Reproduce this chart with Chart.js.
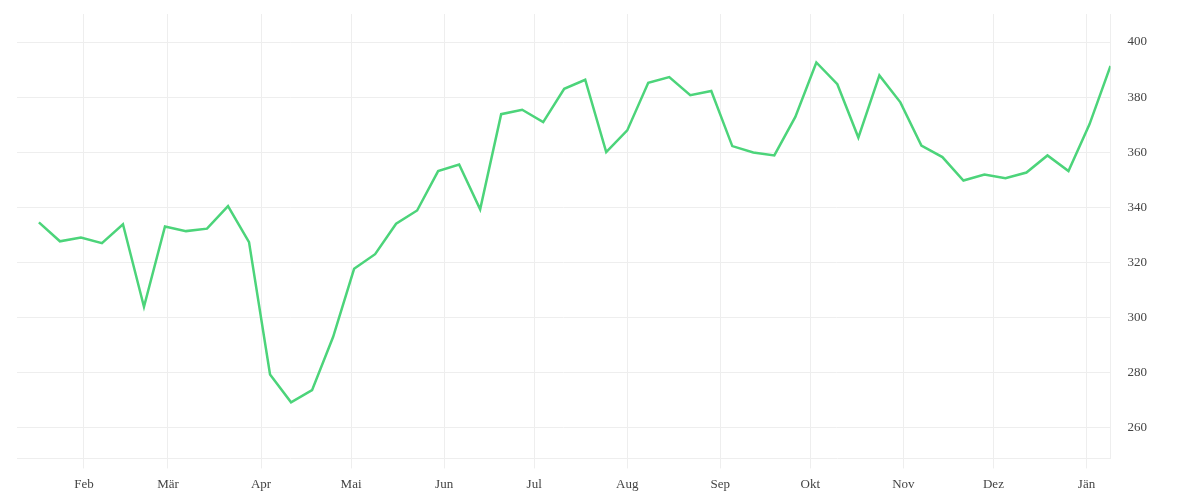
<!DOCTYPE html>
<html>
<head>
<meta charset="utf-8">
<script src="https://cdn.jsdelivr.net/npm/chart.js@4"></script>
<style>
    html, body { margin: 0; padding: 0; background: #fff; }
    #wrap { width: 1200px; height: 500px; }
</style>
</head>
<body>
<div id="wrap"><canvas id="chart"></canvas></div>
<script>
// Days since 1 Jan (weekly samples, last one lands in January of the next year)
const weekDays = [16, 23, 30, 37, 44, 51, 58, 65, 72, 79, 86, 93, 100, 107, 114, 121, 128, 135,
    142, 149, 156, 163, 170, 177, 184, 191, 198, 205, 212, 219, 226, 233, 240, 247, 254, 261,
    268, 275, 282, 289, 296, 303, 310, 317, 324, 331, 338, 345, 352, 359, 366, 373];

const values = [334.5, 327.6, 329.0, 326.9, 333.8, 303.8, 333.0, 331.3, 332.2, 340.4, 327.3, 279.2,
    269.1, 273.5, 292.8, 317.6, 322.9, 334.0, 338.8, 353.1, 355.5, 339.2, 373.8, 375.4, 370.9,
    383.0, 386.3, 360.0, 367.9, 385.2, 387.3, 380.7, 382.2, 362.2, 359.9, 358.8, 372.8, 392.6,
    384.7, 365.3, 387.9, 378.1, 362.4, 358.2, 349.7, 351.9, 350.5, 352.6, 358.8, 353.1, 370.1, 391.3];

// Month starts (day since 1 Jan) and their labels
const monthDays = [31, 59, 90, 120, 151, 181, 212, 243, 273, 304, 334, 365];
const monthLabels = ['Feb', 'Mär', 'Apr', 'Mai', 'Jun', 'Jul', 'Aug', 'Sep', 'Okt', 'Nov', 'Dez', 'Jän'];

const yTicks = [260, 280, 300, 320, 340, 360, 380, 400];

const font = { family: '"Liberation Serif", serif', size: 13 };

new Chart(document.getElementById('chart'), {
    type: 'line',
    data: {
        datasets: [{
            data: weekDays.map((d, i) => ({ x: d, y: values[i] })),
            borderColor: '#4cd47a',
            borderWidth: 2.5,
            pointRadius: 0,
            pointHoverRadius: 0,
            tension: 0,
            fill: false
        }]
    },
    options: {
        responsive: true,
        maintainAspectRatio: false,
        animation: false,
        layout: { padding: { left: 17, right: 53, top: 14, bottom: 0 } },
        plugins: { legend: { display: false }, tooltip: { enabled: false } },
        scales: {
            x: {
                type: 'linear',
                min: 8.7,
                max: 373,
                afterBuildTicks: (scale) => { scale.ticks = monthDays.map(v => ({ value: v })); },
                ticks: {
                    autoSkip: false,
                    maxRotation: 0,
                    color: '#444',
                    font: font,
                    padding: 8,
                    callback: (v) => monthLabels[monthDays.indexOf(v)]
                },
                grid: { color: '#eeeeee', tickLength: 10 },
                border: { color: '#eeeeee' }
            },
            y: {
                position: 'right',
                min: 248.7,
                max: 410.2,
                afterBuildTicks: (scale) => { scale.ticks = yTicks.map(v => ({ value: v })); },
                ticks: { color: '#444', font: font, padding: 0 },
                // invisible tick marks push the labels away from the axis line
                grid: { color: '#eeeeee', tickLength: 17, tickColor: 'rgba(0,0,0,0)' },
                border: { color: '#eeeeee' }
            }
        }
    }
});
</script>
</body>
</html>
